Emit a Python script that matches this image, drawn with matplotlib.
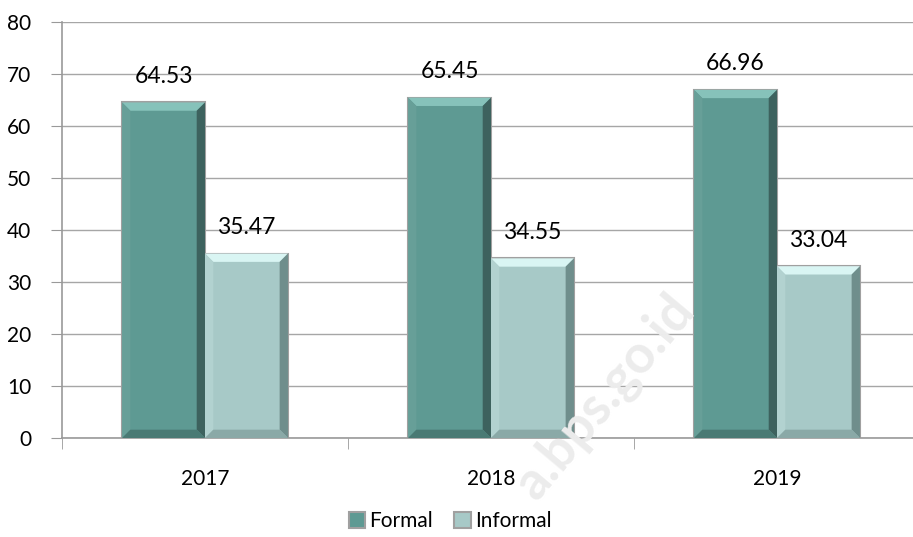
import numpy as np
import matplotlib.pyplot as plt
from matplotlib.patches import Polygon

years = ['2017', '2018', '2019']
formal = [64.53, 65.45, 66.96]
informal = [35.47, 34.55, 33.04]

plt.rcParams['font.family'] = ['Lato', 'DejaVu Sans']

fig = plt.figure(figsize=(9.13, 5.37), dpi=100)
ax = fig.add_axes([62 / 913, (537 - 438) / 537, 858 / 913, 416 / 537])

x = np.arange(len(years))
w = 0.29


def bevel(ax, bars, top, left, right, bottom):
    for b in bars:
        x0, y0 = b.get_x(), b.get_y()
        x1, y1 = x0 + b.get_width(), y0 + b.get_height()
        dx, dy = b.get_width() * 0.1, 1.6
        ax.add_patch(Polygon([(x0, y1), (x1, y1), (x1 - dx, y1 - dy), (x0 + dx, y1 - dy)],
                             closed=True, fc=top, ec='none', zorder=3))
        ax.add_patch(Polygon([(x1, y1), (x1, y0), (x1 - dx, y0 + dy), (x1 - dx, y1 - dy)],
                             closed=True, fc=right, ec='none', zorder=3))
        ax.add_patch(Polygon([(x0, y1), (x0, y0), (x0 + dx, y0 + dy), (x0 + dx, y1 - dy)],
                             closed=True, fc=left, ec='none', zorder=3))
        ax.add_patch(Polygon([(x0, y0), (x1, y0), (x1 - dx, y0 + dy), (x0 + dx, y0 + dy)],
                             closed=True, fc=bottom, ec='none', zorder=3))


b1 = ax.bar(x - w / 2, formal, w, color='#5e9a93', edgecolor='#a0a0a0', linewidth=1.5,
            zorder=2, label='Formal')
b2 = ax.bar(x + w / 2, informal, w, color='#a7c9c7', edgecolor='#a0a0a0', linewidth=1.5,
            zorder=2, label='Informal')
bevel(ax, b1, '#86c2ba', '#679f98', '#3d625e', '#4a7a74')
bevel(ax, b2, '#d9f5f3', '#b2d2d0', '#6f8e8c', '#8aa9a7')

for bars, vals in ((b1, formal), (b2, informal)):
    for b, v in zip(bars, vals):
        ax.text(b.get_x() + b.get_width() / 2, v + 3.0, f'{v:.2f}',
                ha='center', va='bottom', fontsize=16.5, zorder=4)

ax.set_xlim(-0.5, 2.5)
ax.set_ylim(0, 80)
ax.set_yticks(range(0, 81, 10))
ax.set_xticks(x)
ax.set_xticklabels(years)
ax.set_xticks([-0.5, 0.5, 1.5, 2.5], minor=True)
ax.tick_params(axis='x', which='major', length=0, pad=22, labelsize=15)
ax.tick_params(axis='x', which='minor', length=8, color='#999999', direction='out')
ax.tick_params(axis='y', length=8, color='#999999', labelsize=15, pad=14)
ax.grid(axis='y', color='#a6a6a6', linewidth=1, zorder=0)
ax.set_axisbelow(True)
for s in ('top', 'right'):
    ax.spines[s].set_visible(False)
for s in ('left', 'bottom'):
    ax.spines[s].set_color('#999999')
    ax.spines[s].set_linewidth(1.2)

ax.legend(loc='center', bbox_to_anchor=(450 / 913, 16 / 537), bbox_transform=fig.transFigure,
          ncol=2, frameon=False, fontsize=15, handlelength=0.8, handleheight=0.8,
          handletextpad=0.2, columnspacing=1.0)

fig.text(605 / 913, 140 / 537, 'a.bps.go.id', rotation=50, fontsize=38, fontweight='bold',
         color='#ececec', ha='center', va='center', zorder=0)

fig.savefig('out.png', dpi=100)
